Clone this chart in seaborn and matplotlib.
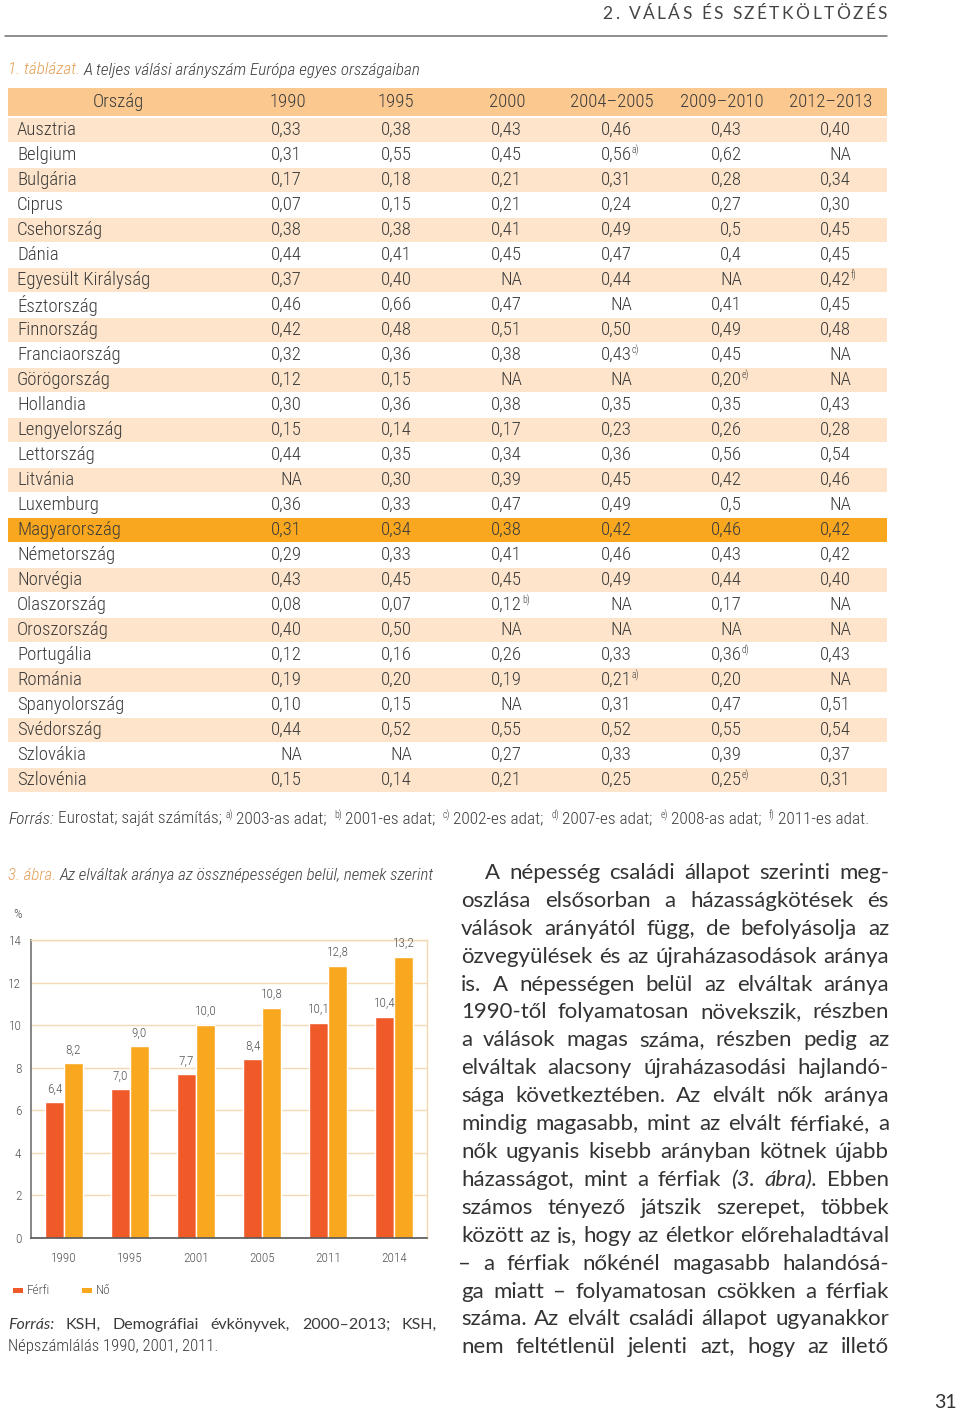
import numpy as np
import pandas as pd
import matplotlib
matplotlib.use('Agg')
import matplotlib.pyplot as plt
from matplotlib import font_manager as fm
from matplotlib.patches import Rectangle
from matplotlib.ticker import FixedLocator
import seaborn as sns

# ============================================================
# Data
# ============================================================

table_columns = ['Ország', '1990', '1995', '2000', '2004–2005', '2009–2010', '2012–2013']

countries = ['Ausztria', 'Belgium', 'Bulgária', 'Ciprus', 'Csehország', 'Dánia',
             'Egyesült Királyság', 'Észtország', 'Finnország', 'Franciaország',
             'Görögország', 'Hollandia', 'Lengyelország', 'Lettország', 'Litvánia',
             'Luxemburg', 'Magyarország', 'Németország', 'Norvégia', 'Olaszország',
             'Oroszország', 'Portugália', 'Románia', 'Spanyolország', 'Svédország',
             'Szlovákia', 'Szlovénia']

# "^x)" marks a footnote reference
v1990 = ['0,33', '0,31', '0,17', '0,07', '0,38', '0,44', '0,37', '0,46', '0,42', '0,32',
         '0,12', '0,30', '0,15', '0,44', 'NA', '0,36', '0,31', '0,29', '0,43', '0,08',
         '0,40', '0,12', '0,19', '0,10', '0,44', 'NA', '0,15']
v1995 = ['0,38', '0,55', '0,18', '0,15', '0,38', '0,41', '0,40', '0,66', '0,48', '0,36',
         '0,15', '0,36', '0,14', '0,35', '0,30', '0,33', '0,34', '0,33', '0,45', '0,07',
         '0,50', '0,16', '0,20', '0,15', '0,52', 'NA', '0,14']
v2000 = ['0,43', '0,45', '0,21', '0,21', '0,41', '0,45', 'NA', '0,47', '0,51', '0,38',
         'NA', '0,38', '0,17', '0,34', '0,39', '0,47', '0,38', '0,41', '0,45', '0,12^b)',
         'NA', '0,26', '0,19', 'NA', '0,55', '0,27', '0,21']
v2004_2005 = ['0,46', '0,56^a)', '0,31', '0,24', '0,49', '0,47', '0,44', 'NA', '0,50', '0,43^c)',
              'NA', '0,35', '0,23', '0,36', '0,45', '0,49', '0,42', '0,46', '0,49', 'NA',
              'NA', '0,33', '0,21^a)', '0,31', '0,52', '0,33', '0,25']
v2009_2010 = ['0,43', '0,62', '0,28', '0,27', '0,5', '0,4', 'NA', '0,41', '0,49', '0,45',
              '0,20^e)', '0,35', '0,26', '0,56', '0,42', '0,5', '0,46', '0,43', '0,44', '0,17',
              'NA', '0,36^d)', '0,20', '0,47', '0,55', '0,39', '0,25^e)']
v2012_2013 = ['0,40', 'NA', '0,34', '0,30', '0,45', '0,45', '0,42^f)', '0,45', '0,48', 'NA',
              'NA', '0,43', '0,28', '0,54', '0,46', 'NA', '0,42', '0,42', '0,40', 'NA',
              'NA', '0,43', 'NA', '0,51', '0,54', '0,37', '0,31']
highlight_country = 'Magyarország'

table_notes = [('a)', '2003-as adat;'), ('b)', '2001-es adat;'), ('c)', '2002-es adat;'),
               ('d)', '2007-es adat;'), ('e)', '2008-as adat;'), ('f)', '2011-es adat.')]

chart_years = ['1990', '1995', '2001', '2005', '2011', '2014']
ferfi = [6.4, 7.0, 7.7, 8.4, 10.1, 10.4]
no = [8.2, 9.0, 10.0, 10.8, 12.8, 13.2]
y_ticks = [0, 2, 4, 6, 8, 10, 12, 14]

body_lines = [
    "A népesség családi állapot szerinti meg-",
    "oszlása elsősorban a házasságkötések és",
    "válások arányától függ, de befolyásolja az",
    "özvegyülések és az újraházasodások aránya",
    "is. A népességen belül az elváltak aránya",
    "1990-től folyamatosan növekszik, részben",
    "a válások magas száma, részben pedig az",
    "elváltak alacsony újraházasodási hajlandó-",
    "sága következtében. Az elvált nők aránya",
    "mindig magasabb, mint az elvált férfiaké, a",
    "nők ugyanis kisebb arányban kötnek újabb",
    "házasságot, mint a férfiak (3. ábra). Ebben",
    "számos tényező játszik szerepet, többek",
    "között az is, hogy az életkor előrehaladtával",
    "– a férfiak nőkénél magasabb halandósá-",
    "ga miatt – folyamatosan csökken a férfiak",
    "száma. Az elvált családi állapot ugyanakkor",
    "nem feltétlenül jelenti azt, hogy az illető",
]
italic_words = {'(3.', 'ábra).'}

# ============================================================
# Style
# ============================================================

sns.set_theme(style='white')

names = {f.name for f in fm.fontManager.ttflist}
def pick(*cands):
    for c in cands:
        if c in names:
            return c
    return 'DejaVu Sans'

NARROW = pick('Roboto Condensed', 'Open Sans Condensed', 'Liberation Sans Narrow', 'DejaVu Sans')
BODY = pick('Lato', 'Open Sans', 'Roboto', 'DejaVu Sans')
plt.rcParams['font.family'] = [NARROW, 'DejaVu Sans']
plt.rcParams['font.weight'] = 'light'

TXT = '#3b3b3b'
ORANGE_DARK = '#EF5A28'
ORANGE = '#F8A71E'
HEAD_BAND = '#FBC990'
LIGHT_BAND = '#FDE4CB'
GRID = '#F4D8B2'
CAPTION_ORANGE = '#E59E55'

fig = plt.figure(figsize=(9.6, 14.13), dpi=100)
page = fig.add_axes([0, 0, 1, 1])
page.set_xlim(0, 960)
page.set_ylim(1413, 0)
page.axis('off')
renderer = fig.canvas.get_renderer()


def put(x, y, s, **kw):
    kw.setdefault('color', TXT)
    kw.setdefault('va', 'center')
    kw.setdefault('family', [NARROW, 'DejaVu Sans'])
    kw.setdefault('fontweight', 'light')
    t = page.text(x, y, s, **kw)
    return t, t.get_window_extent(renderer).width


def measure(s, **kw):
    t, w = put(0, 0, s, **kw)
    t.remove()
    return w


def space(**kw):
    return measure('n n', **kw) - measure('nn', **kw)


def run(x, y, parts):
    for s, kw in parts:
        kw = dict(kw)
        dy = kw.pop('dy', 0)
        gap = kw.pop('gap', 0)
        t, w = put(x, y + dy, s, ha='left', **kw)
        x += w + gap
    return x


def justify(words, y, x0, x1, styles):
    items = []
    for w, st in zip(words, styles):
        t, wd = put(x0, y, w, ha='left', **st)
        items.append((t, wd))
    total = sum(wd for _, wd in items)
    gap = (x1 - x0 - total) / max(len(items) - 1, 1)
    x = x0
    for t, wd in items:
        t.set_x(x)
        x += wd + gap


# ============================================================
# Page header
# ============================================================

title = '2. VÁLÁS ÉS SZÉTKÖLTÖZÉS'
tk = dict(fontsize=12.5, family=[BODY, 'DejaVu Sans'], fontweight='normal', color='#444444')
track = 2.4
tw = sum(measure(ch, **tk) if ch != ' ' else space(**tk) for ch in title) + track * (len(title) - 1)
x = 887 - tw
for ch in title:
    if ch == ' ':
        x += space(**tk) + track
        continue
    t, w = put(x, 14, ch, ha='left', **tk)
    x += w + track
page.plot([5, 887], [36, 36], color='#6f6f6f', lw=1.1)

# ============================================================
# Table
# ============================================================

cap_kw = dict(fontsize=12.3, style='italic')
run(8, 70, [('1. táblázat.', dict(cap_kw, color=CAPTION_ORANGE, gap=space(**cap_kw))),
            ('A teljes válási arányszám Európa egyes országaiban', cap_kw)])

page.add_patch(Rectangle((8, 88), 879, 28, color=HEAD_BAND, lw=0))
head_x = [118, 288, 396, 507, 612, 722, 831]
for hx, lab in zip(head_x, table_columns):
    put(hx, 102, lab, ha='center', fontsize=13.5)

value_cols = [v1990, v1995, v2000, v2004_2005, v2009_2010, v2012_2013]
right_edges = [302, 412, 522, 632, 742, 851]
for i, name in enumerate(countries):
    yc = 130 + 25 * i
    if name == highlight_country:
        page.add_patch(Rectangle((8, yc - 12), 879, 24, color=ORANGE, lw=0))
    elif i % 2 == 0:
        page.add_patch(Rectangle((8, yc - 12), 879, 24, color=LIGHT_BAND, lw=0))
    put(17, yc, name, ha='left', fontsize=13.5)
    for col, rx in zip(value_cols, right_edges):
        parts = col[i].split('^')
        put(rx, yc, parts[0], ha='right', fontsize=13.5)
        if len(parts) > 1:
            put(rx, yc - 5, parts[1], ha='left', fontsize=7)

fn_kw = dict(fontsize=12.4)
sup_kw = dict(fontsize=7, dy=-4)
sp = space(**fn_kw)
parts = [('Forrás:', dict(fn_kw, style='italic', gap=sp)),
         ('Eurostat; saját számítás;', dict(fn_kw, gap=sp))]
for mark, txt in table_notes:
    parts.append((mark, dict(sup_kw, gap=sp * 0.8)))
    parts.append((txt, dict(fn_kw, gap=sp * 2)))
run(8, 819, parts)

# ============================================================
# Chart: 3. ábra
# ============================================================

cap_kw = dict(fontsize=12.2, style='italic')
run(8, 875, [('3. ábra.', dict(cap_kw, color=CAPTION_ORANGE, gap=space(**cap_kw))),
             ('Az elváltak aránya az össznépességen belül, nemek szerint', cap_kw)])

df = pd.DataFrame({
    'év': chart_years * 2,
    'nem': ['Férfi'] * len(ferfi) + ['Nő'] * len(no),
    'arány': ferfi + no,
})

ax = fig.add_axes([31 / 960, 1 - 1238 / 1413, 396 / 960, 298 / 1413])
sns.barplot(data=df, x='év', y='arány', hue='nem', palette=[ORANGE_DARK, ORANGE],
            width=0.57, saturation=1, legend=False, ax=ax)
ax.set_xlim(-0.5, len(chart_years) - 0.5)
ax.set_ylim(0, 14)
ax.set_yticks(y_ticks)
ax.set_yticklabels([str(v) for v in y_ticks])
ax.set_xlabel('')
ax.set_ylabel('')
ax.yaxis.grid(True, color=GRID, lw=1)
ax.set_axisbelow(True)
for side in ['top', 'right']:
    ax.spines[side].set_color(GRID)
    ax.spines[side].set_linewidth(1)
ax.spines['left'].set_color('#777777')
ax.spines['bottom'].set_color('#555555')
ax.spines['bottom'].set_linewidth(1.2)
ax.xaxis.set_minor_locator(FixedLocator(np.arange(-0.5, len(chart_years), 1.0)))
ax.tick_params(axis='x', which='major', length=0, pad=10, labelsize=9.5, labelcolor='#555555')
ax.tick_params(axis='x', which='minor', length=6, width=1, color='#555555', direction='out')
ax.tick_params(axis='y', length=4, width=1, color='#777777', direction='out', pad=3,
               labelsize=9.5, labelcolor='#555555')

for cont, vals in zip(ax.containers, [ferfi, no]):
    ax.bar_label(cont, labels=[f'{v:.1f}'.replace('.', ',') for v in vals],
                 padding=5, fontsize=9.5, color='#555555')

put(17, 914, '%', ha='center', fontsize=9.5, color='#555555')

# legend
page.add_patch(Rectangle((13, 1288), 10, 5, color=ORANGE_DARK, lw=0))
put(27, 1291, 'Férfi', ha='left', fontsize=9.5, color='#555555')
page.add_patch(Rectangle((82, 1288), 10, 5, color=ORANGE, lw=0))
put(96, 1291, 'Nő', ha='left', fontsize=9.5, color='#555555')

# source under chart
src_kw = dict(fontsize=11.5, family=[BODY, 'DejaVu Sans'], fontweight='normal')
src_words = ['Forrás:', 'KSH,', 'Demográfiai', 'évkönyvek,', '2000–2013;', 'KSH,']
justify(src_words, 1325, 8, 437,
        [dict(src_kw, style='italic')] + [src_kw] * (len(src_words) - 1))
put(8, 1346, 'Népszámlálás 1990, 2001, 2011.', ha='left', fontsize=12)

# ============================================================
# Body text (justified)
# ============================================================

body_kw = dict(family=[BODY, 'DejaVu Sans'], fontweight='normal', color='#333333')
x_left, x_right, indent = 461, 889, 24
fits = []
for k, line in enumerate(body_lines):
    words = line.split()
    nat = sum(measure(w, fontsize=10, **body_kw) for w in words) + \
        space(fontsize=10, **body_kw) * (len(words) - 1)
    avail = x_right - x_left - (indent if k == 0 else 0)
    fits.append(avail / nat)
body_fs = 10 * min(fits) * 0.995

for k, line in enumerate(body_lines):
    words = line.split()
    styles = [dict(body_kw, fontsize=body_fs, style='italic' if w in italic_words else 'normal')
              for w in words]
    x0 = x_left + (indent if k == 0 else 0)
    if line.startswith('–'):
        x0 -= 3
    justify(words, 873 + 27.9 * k, x0, x_right, styles)

put(957, 1403, '31', ha='right', fontsize=14, family=[BODY, 'DejaVu Sans'],
    fontweight='normal', color='#333333')

fig.savefig('out.png', dpi=100)
